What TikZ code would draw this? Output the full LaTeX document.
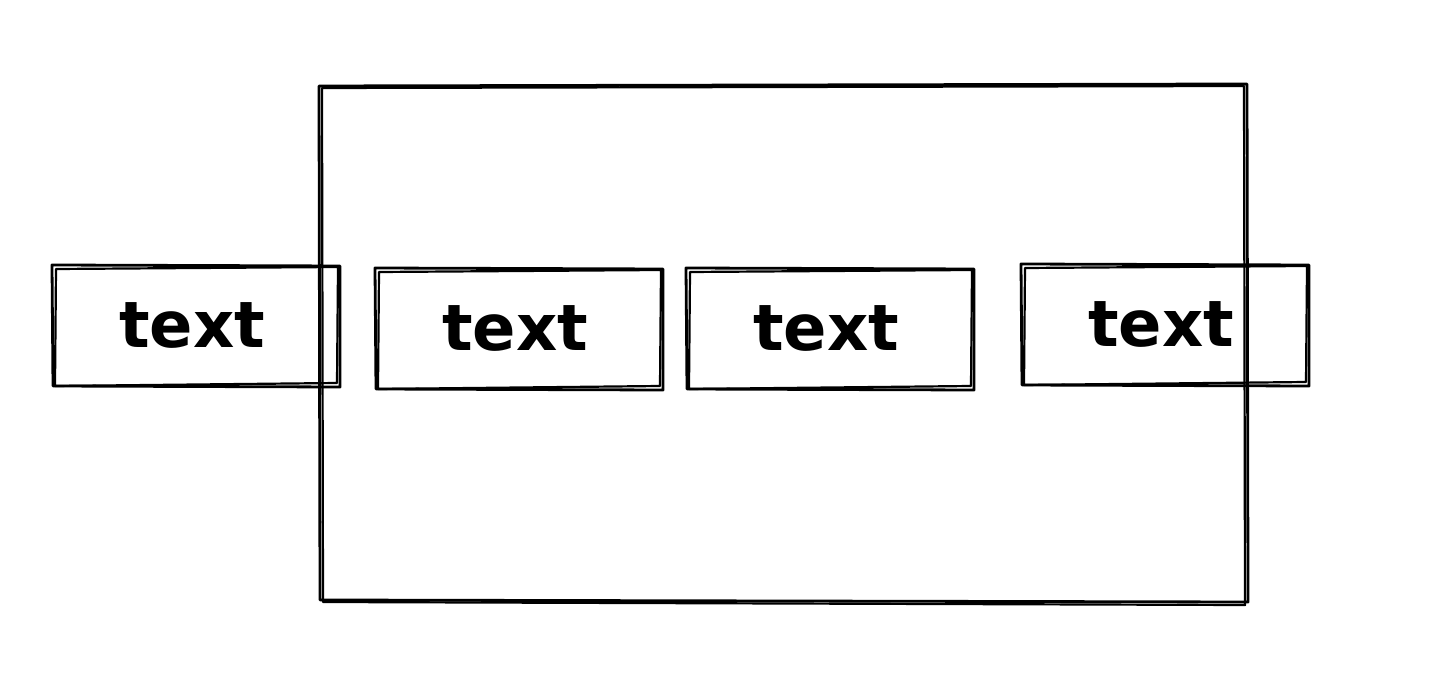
\documentclass[tikz,border=0pt]{standalone}
\usepackage{fontspec}
\setmainfont{DejaVu Sans}
\begin{document}
\begin{tikzpicture}[x=1pt,y=-1pt,
  sk/.style={draw=black,line width=2.8pt,line cap=round,line join=round},
  sk2/.style={draw=black,line width=2.2pt,line cap=round,line join=round},
  lbl/.style={font=\bfseries\fontsize{64}{64}\selectfont,inner sep=0pt}]
\useasboundingbox[fill=white] (0,0) rectangle (1430,676);
% big frame
\draw[sk] (319,86) -- (1247,84) -- (1248,602) -- (320,600) -- cycle;
\draw[sk2] (322,88) -- (1244,86) -- (1245,605) -- (323,602) -- cycle;
% boxes
\foreach \x/\y/\n in {52/265/a,375/268/b,686/268/c,1021/264/d}{
  \draw[sk] (\x,\y) -- (\x+288,\y+1) -- (\x+288,\y+122) -- (\x+1,\y+121) -- cycle;
  \draw[sk2] (\x+4,\y+4) -- (\x+286,\y+2) -- (\x+285,\y+118) -- (\x+3,\y+121) -- cycle;
  \node[lbl] (\n) at (\x+140,\y+60) {text};
}
\end{tikzpicture}
\end{document}
